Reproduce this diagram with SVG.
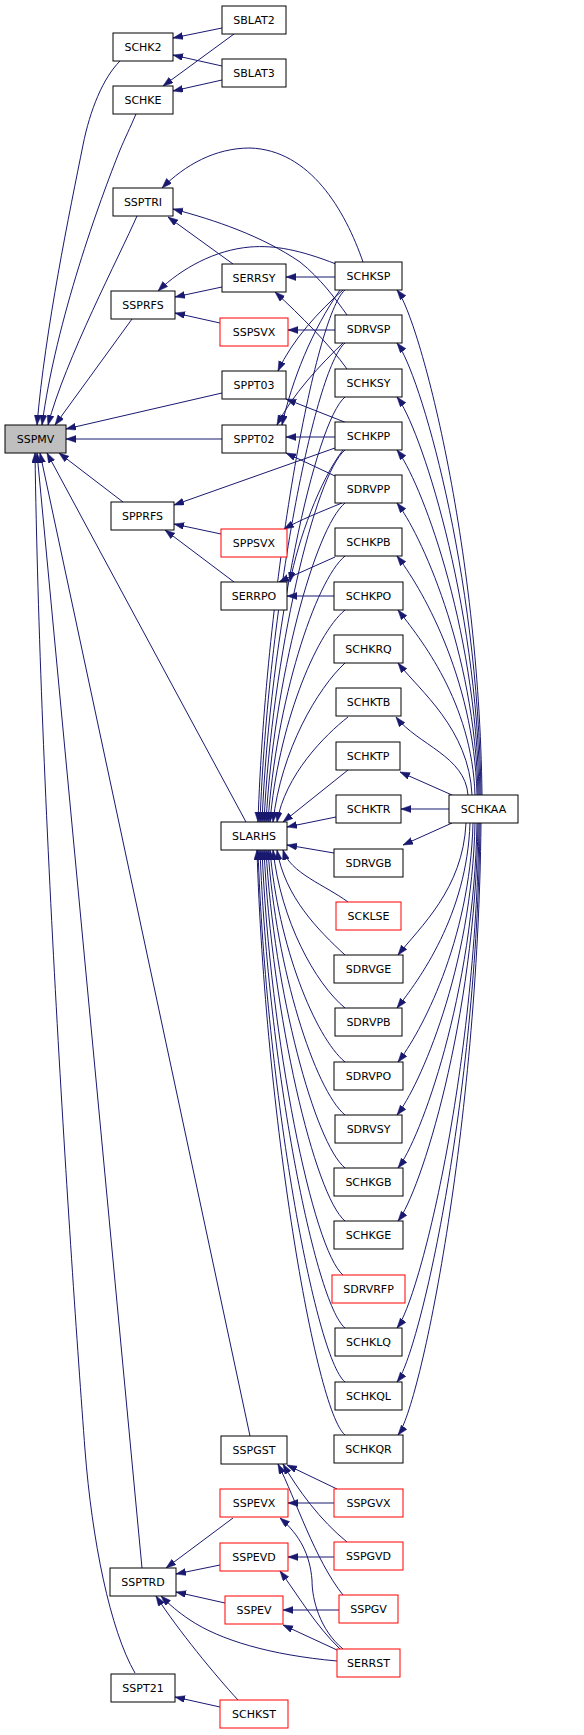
<svg xmlns="http://www.w3.org/2000/svg" width="584" height="1735" viewBox="0 0 584 1735">
<defs>
<style>
.n rect{fill:#ffffff;stroke:#000000;stroke-width:1}
.n.r rect{stroke:#ff0000}
.n.m rect{fill:#bfbfbf}
.n text{font-family:"DejaVu Sans","Liberation Sans",sans-serif;font-size:11px;fill:#000000;text-anchor:middle}
#edges path{fill:none;stroke:#191970;stroke-width:1;marker-end:url(#ah)}
</style>
<marker id="ah" markerUnits="userSpaceOnUse" markerWidth="10" markerHeight="8" refX="10" refY="3.5" orient="auto">
<path d="M0,0 L10,3.5 L0,7 z" fill="#191970" stroke="#191970" stroke-width="0.5"/>
</marker>
</defs>
<rect width="584" height="1735" fill="#ffffff"/>
<g id="edges">
<!-- to SSPMV -->
<path d="M120,61 C103,78 90,110 83,145 C70,210 45,330 37,425"/>
<path d="M136,114 C130,128 125,138 120,150 C100,200 56,320 42,425"/>
<path d="M137,216 C120,255 65,360 48,425"/>
<path d="M132,319 L55,425"/>
<path d="M222,393 L66,429"/>
<path d="M222,439 L66,439"/>
<path d="M123,502 L59,453"/>
<path d="M246,822 L47,453"/>
<path d="M250,1436 L40,453"/>
<path d="M142,1568 L37,453"/>
<path d="M135,1673 C110,1630 92,1540 85,1450 C70,1250 40,800 35,453"/>
<!-- SCHK2 / SCHKE -->
<path d="M222,28 L173,38"/>
<path d="M222,66 L173,55"/>
<path d="M234,34 L163,86"/>
<path d="M222,80 L173,91"/>
<!-- SSPTRI -->
<path d="M363,262 C345,210 310,150 250,148 C215,148 185,165 162,188"/>
<path d="M347,315 C335,298 320,278 300,262 C262,236 215,220 173,209"/>
<path d="M233,264 L168,217"/>
<!-- SSPRFS -->
<path d="M336,264 C300,250 275,245 250,247 C215,250 182,268 158,291"/>
<path d="M222,287 L175,297"/>
<path d="M220,323 L175,313"/>
<!-- SERRSY, SSPSVX -->
<path d="M335,277 L286,277"/>
<path d="M347,369 C330,345 300,315 275,292"/>
<path d="M335,330 L288,330"/>
<!-- SPPT03, SPPT02 -->
<path d="M343,290 C320,310 292,340 278,371"/>
<path d="M347,423 L286,399"/>
<path d="M340,290 C312,330 292,380 282,425"/>
<path d="M343,343 C320,365 292,395 277,425"/>
<path d="M335,437 L286,437"/>
<path d="M335,476 L286,453"/>
<!-- SPPRFS, SPPSVX, SERRPO -->
<path d="M335,448 L174,505"/>
<path d="M221,534 L174,524"/>
<path d="M234,582 L165,530"/>
<path d="M342,503 C320,512 300,520 284,529"/>
<path d="M334,596 L287,596"/>
<path d="M335,557 L279,582"/>
<path d="M343,450 C320,480 298,540 290,582"/>
<!-- SLARHS upper -->
<path d="M345,290 C315,315 266,583 258,822"/>
<path d="M345,343 C315,368 268,606 260,822"/>
<path d="M345,397 C315,422 270,631 262,822"/>
<path d="M345,450 C315,475 272,655 264,822"/>
<path d="M345,503 C315,528 274,678 266,822"/>
<path d="M345,556 C315,581 276,702 268,822"/>
<path d="M345,610 C315,635 278,727 270,822"/>
<path d="M345,663 C318,688 281,750 273,822"/>
<path d="M348,717 C325,735 285,775 277,822"/>
<path d="M348,770 L283,822"/>
<path d="M336,817 L287,827"/>
<!-- SLARHS lower -->
<path d="M334,853 L287,845"/>
<path d="M348,902 C325,885 290,873 283,850"/>
<path d="M345,955 C318,930 285,897 277,850"/>
<path d="M345,1008 C315,983 281,921 273,850"/>
<path d="M345,1062 C315,1037 278,945 270,850"/>
<path d="M345,1115 C315,1090 276,969 268,850"/>
<path d="M345,1168 C315,1143 274,993 266,850"/>
<path d="M345,1221 C315,1196 272,1017 264,850"/>
<path d="M343,1275 C313,1250 270,1041 262,850"/>
<path d="M345,1328 C315,1303 268,1065 260,850"/>
<path d="M345,1382 C315,1357 266,1089 258,850"/>
<path d="M345,1435 C315,1410 265,1113 257,850"/>
<!-- SCHKAA upper -->
<path d="M482,795 C479,542 419,318 397,290"/>
<path d="M481,795 C478,569 419,371 397,343"/>
<path d="M480,795 C477,596 419,425 397,397"/>
<path d="M479,795 C476,622 419,478 397,450"/>
<path d="M478,795 C475,649 419,531 397,503"/>
<path d="M477,795 C474,675 419,584 397,556"/>
<path d="M475,795 C472,702 420,638 398,610"/>
<path d="M472,795 C469,729 420,691 398,663"/>
<path d="M468,795 C465,756 418,745 396,717"/>
<path d="M452,795 L400,772"/>
<path d="M449,809 L401,809"/>
<path d="M452,823 L403,845"/>
<!-- SCHKAA lower -->
<path d="M466,823 C463,889 420,927 398,955"/>
<path d="M470,823 C467,915 419,980 397,1008"/>
<path d="M473,823 C470,942 420,1034 398,1062"/>
<path d="M475,823 C472,969 419,1087 397,1115"/>
<path d="M477,823 C474,995 420,1140 398,1168"/>
<path d="M478,823 C475,1022 420,1193 398,1221"/>
<path d="M479,823 C476,1075 419,1300 397,1328"/>
<path d="M480,823 C477,1102 419,1354 397,1382"/>
<path d="M481,823 C478,1129 420,1407 398,1435"/>
<!-- bottom -->
<path d="M337,1489 L287,1465"/>
<path d="M347,1542 C320,1520 298,1490 283,1464"/>
<path d="M343,1595 C315,1560 296,1500 278,1464"/>
<path d="M334,1503 L288,1503"/>
<path d="M334,1557 L288,1557"/>
<path d="M339,1610 L283,1610"/>
<path d="M343,1649 C320,1630 312,1600 312,1580 C310,1555 300,1535 280,1518"/>
<path d="M340,1649 C315,1625 298,1595 280,1571"/>
<path d="M337,1650 L283,1625"/>
<path d="M337,1661 C270,1655 220,1640 190,1620 C178,1612 170,1605 161,1596"/>
<path d="M238,1700 C215,1675 178,1630 156,1596"/>
<path d="M233,1518 L166,1568"/>
<path d="M220,1565 L176,1574"/>
<path d="M225,1603 L176,1592"/>
<path d="M220,1707 L175,1697"/>
</g>
<g id="node-SSPMV" class="n m"><rect x="5" y="425" width="61" height="28"/><text x="35.5" y="443">SSPMV</text></g>
<g id="node-SCHK2" class="n"><rect x="113" y="33" width="60" height="28"/><text x="143" y="51">SCHK2</text></g>
<g id="node-SCHKE" class="n"><rect x="113" y="86" width="60" height="28"/><text x="143" y="104">SCHKE</text></g>
<g id="node-SBLAT2" class="n"><rect x="222" y="6" width="64" height="28"/><text x="254" y="24">SBLAT2</text></g>
<g id="node-SBLAT3" class="n"><rect x="222" y="59" width="64" height="28"/><text x="254" y="77">SBLAT3</text></g>
<g id="node-SSPTRI" class="n"><rect x="113" y="188" width="60" height="28"/><text x="143" y="206">SSPTRI</text></g>
<g id="node-SSPRFS" class="n"><rect x="111" y="291" width="64" height="28"/><text x="143" y="309">SSPRFS</text></g>
<g id="node-SERRSY" class="n"><rect x="222" y="264" width="64" height="28"/><text x="254" y="282">SERRSY</text></g>
<g id="node-SSPSVX" class="n r"><rect x="220" y="318" width="68" height="28"/><text x="254" y="336">SSPSVX</text></g>
<g id="node-SPPT03" class="n"><rect x="222" y="371" width="64" height="28"/><text x="254" y="389">SPPT03</text></g>
<g id="node-SPPT02" class="n"><rect x="222" y="425" width="64" height="28"/><text x="254" y="443">SPPT02</text></g>
<g id="node-SPPRFS" class="n"><rect x="111" y="502" width="63" height="28"/><text x="142.5" y="520">SPPRFS</text></g>
<g id="node-SPPSVX" class="n r"><rect x="221" y="529" width="66" height="28"/><text x="254" y="547">SPPSVX</text></g>
<g id="node-SERRPO" class="n"><rect x="221" y="582" width="66" height="28"/><text x="254" y="600">SERRPO</text></g>
<g id="node-SLARHS" class="n"><rect x="221" y="822" width="66" height="28"/><text x="254" y="840">SLARHS</text></g>
<g id="node-SSPGST" class="n"><rect x="221" y="1436" width="66" height="28"/><text x="254" y="1454">SSPGST</text></g>
<g id="node-SSPEVX" class="n r"><rect x="220" y="1489" width="68" height="28"/><text x="254" y="1507">SSPEVX</text></g>
<g id="node-SSPEVD" class="n r"><rect x="220" y="1543" width="68" height="28"/><text x="254" y="1561">SSPEVD</text></g>
<g id="node-SSPEV" class="n r"><rect x="225" y="1596" width="58" height="28"/><text x="254" y="1614">SSPEV</text></g>
<g id="node-SSPTRD" class="n"><rect x="110" y="1568" width="66" height="28"/><text x="143" y="1586">SSPTRD</text></g>
<g id="node-SSPT21" class="n"><rect x="111" y="1674" width="64" height="28"/><text x="143" y="1692">SSPT21</text></g>
<g id="node-SCHKST" class="n r"><rect x="220" y="1700" width="68" height="28"/><text x="254" y="1718">SCHKST</text></g>
<g id="node-SCHKSP" class="n"><rect x="335" y="262" width="67" height="28"/><text x="368.5" y="280">SCHKSP</text></g>
<g id="node-SDRVSP" class="n"><rect x="335" y="315" width="67" height="28"/><text x="368.5" y="333">SDRVSP</text></g>
<g id="node-SCHKSY" class="n"><rect x="335" y="369" width="67" height="28"/><text x="368.5" y="387">SCHKSY</text></g>
<g id="node-SCHKPP" class="n"><rect x="335" y="422" width="67" height="28"/><text x="368.5" y="440">SCHKPP</text></g>
<g id="node-SDRVPP" class="n"><rect x="335" y="475" width="67" height="28"/><text x="368.5" y="493">SDRVPP</text></g>
<g id="node-SCHKPB" class="n"><rect x="335" y="528" width="67" height="28"/><text x="368.5" y="546">SCHKPB</text></g>
<g id="node-SCHKPO" class="n"><rect x="334" y="582" width="69" height="28"/><text x="368.5" y="600">SCHKPO</text></g>
<g id="node-SCHKRQ" class="n"><rect x="334" y="635" width="69" height="28"/><text x="368.5" y="653">SCHKRQ</text></g>
<g id="node-SCHKTB" class="n"><rect x="336" y="688" width="65" height="28"/><text x="368.5" y="706">SCHKTB</text></g>
<g id="node-SCHKTP" class="n"><rect x="336" y="742" width="64" height="28"/><text x="368" y="760">SCHKTP</text></g>
<g id="node-SCHKTR" class="n"><rect x="336" y="795" width="65" height="28"/><text x="368.5" y="813">SCHKTR</text></g>
<g id="node-SDRVGB" class="n"><rect x="334" y="849" width="69" height="28"/><text x="368.5" y="867">SDRVGB</text></g>
<g id="node-SCKLSE" class="n r"><rect x="336" y="902" width="65" height="28"/><text x="368.5" y="920">SCKLSE</text></g>
<g id="node-SDRVGE" class="n"><rect x="334" y="955" width="69" height="28"/><text x="368.5" y="973">SDRVGE</text></g>
<g id="node-SDRVPB" class="n"><rect x="335" y="1008" width="67" height="28"/><text x="368.5" y="1026">SDRVPB</text></g>
<g id="node-SDRVPO" class="n"><rect x="334" y="1062" width="69" height="28"/><text x="368.5" y="1080">SDRVPO</text></g>
<g id="node-SDRVSY" class="n"><rect x="335" y="1115" width="67" height="28"/><text x="368.5" y="1133">SDRVSY</text></g>
<g id="node-SCHKGB" class="n"><rect x="334" y="1168" width="69" height="28"/><text x="368.5" y="1186">SCHKGB</text></g>
<g id="node-SCHKGE" class="n"><rect x="334" y="1221" width="69" height="28"/><text x="368.5" y="1239">SCHKGE</text></g>
<g id="node-SDRVRFP" class="n r"><rect x="332" y="1275" width="73" height="28"/><text x="368.5" y="1293">SDRVRFP</text></g>
<g id="node-SCHKLQ" class="n"><rect x="335" y="1328" width="67" height="28"/><text x="368.5" y="1346">SCHKLQ</text></g>
<g id="node-SCHKQL" class="n"><rect x="335" y="1382" width="67" height="28"/><text x="368.5" y="1400">SCHKQL</text></g>
<g id="node-SCHKQR" class="n"><rect x="334" y="1435" width="69" height="28"/><text x="368.5" y="1453">SCHKQR</text></g>
<g id="node-SCHKAA" class="n"><rect x="449" y="795" width="69" height="28"/><text x="483.5" y="813">SCHKAA</text></g>
<g id="node-SSPGVX" class="n r"><rect x="334" y="1489" width="69" height="28"/><text x="368.5" y="1507">SSPGVX</text></g>
<g id="node-SSPGVD" class="n r"><rect x="334" y="1542" width="69" height="28"/><text x="368.5" y="1560">SSPGVD</text></g>
<g id="node-SSPGV" class="n r"><rect x="339" y="1595" width="59" height="28"/><text x="368.5" y="1613">SSPGV</text></g>
<g id="node-SERRST" class="n r"><rect x="337" y="1649" width="63" height="28"/><text x="368.5" y="1667">SERRST</text></g>
</svg>
